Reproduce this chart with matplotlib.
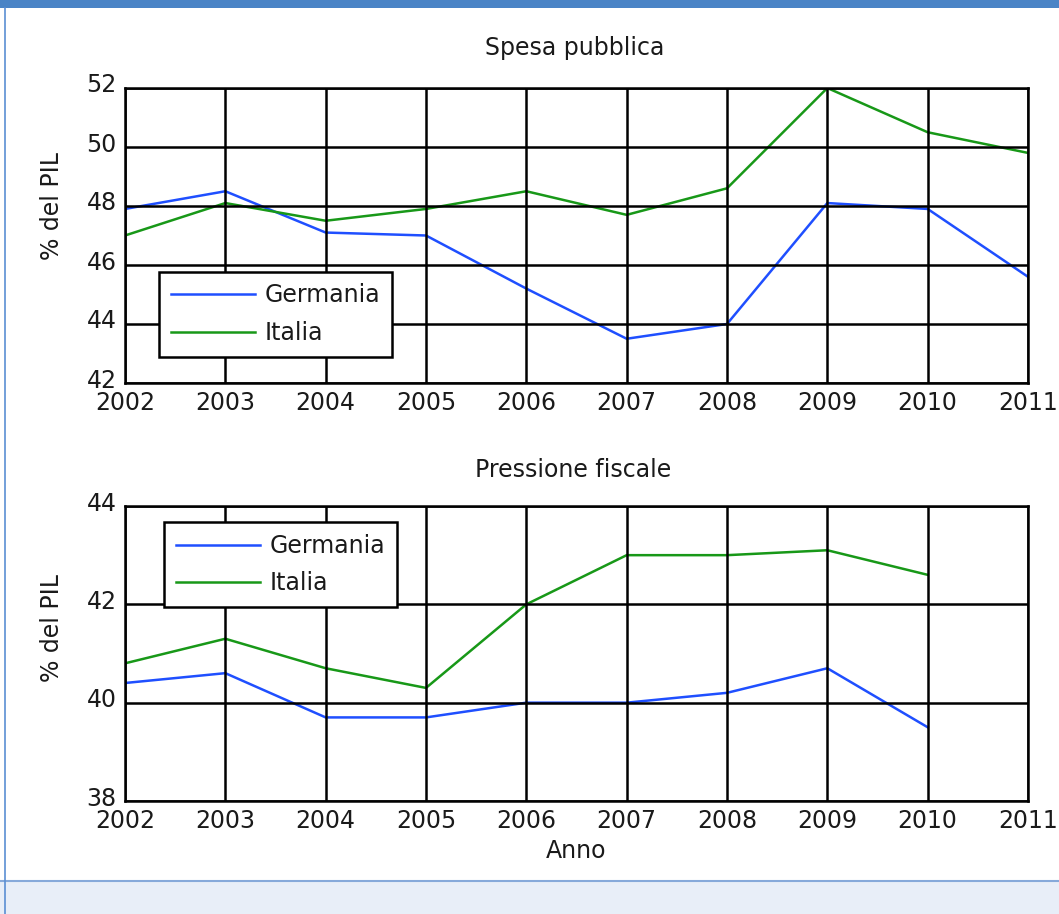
import matplotlib
matplotlib.use('Agg')
import matplotlib.pyplot as plt
import matplotlib.transforms as mtransforms
from matplotlib.patches import Rectangle
from matplotlib.lines import Line2D

# ---------------- data ----------------
years = [2002, 2003, 2004, 2005, 2006, 2007, 2008, 2009, 2010, 2011]
spesa_germania = [47.9, 48.5, 47.1, 47.0, 45.2, 43.5, 44.0, 48.1, 47.9, 45.6]
spesa_italia = [47.0, 48.1, 47.5, 47.9, 48.5, 47.7, 48.6, 52.0, 50.5, 49.8]

pressione_years = [2002, 2003, 2004, 2005, 2006, 2007, 2008, 2009, 2010]
pressione_germania = [40.4, 40.6, 39.7, 39.7, 40.0, 40.0, 40.2, 40.7, 39.5]
pressione_italia = [40.8, 41.3, 40.7, 40.3, 42.0, 43.0, 43.0, 43.1, 42.6]

spesa_yticks = [42, 44, 46, 48, 50, 52]
pressione_yticks = [38, 40, 42, 44]

titles = ["Spesa pubblica", "Pressione fiscale"]
series_labels = ["Germania", "Italia"]
ylabel = "% del PIL"
xlabel = "Anno"

# ---------------- style ----------------
W, H = 1059, 914
BLUE = '#1f4fff'
GREEN = '#189818'
FS = 17
TXT = '#1a1a1a'
plt.rcParams['font.family'] = ['DejaVu Sans']

fig = plt.figure(figsize=(W / 100, H / 100), dpi=100)
fig.patch.set_facecolor('white')

# frame decorations
fig.patches.append(Rectangle((0, 1 - 8 / H), 1, 8 / H, transform=fig.transFigure,
                             facecolor='#4a84c6', edgecolor='none', zorder=0))
fig.patches.append(Rectangle((0, 0), 1, 33 / H, transform=fig.transFigure,
                             facecolor='#e8eef8', edgecolor='none', zorder=0))
fig.lines.append(Line2D([0, 1], [33 / H, 33 / H], transform=fig.transFigure,
                        color='#86a9da', lw=1.5))
fig.lines.append(Line2D([5 / W, 5 / W], [0, 1 - 8 / H], transform=fig.transFigure,
                        color='#5b8fd3', lw=1.2))

ax1 = fig.add_axes([125 / W, 1 - 383 / H, 903 / W, 295 / H])
ax2 = fig.add_axes([125 / W, 1 - 801 / H, 903 / W, 295 / H])

shift = mtransforms.ScaledTranslation(0, 0.05, fig.dpi_scale_trans)


def style(ax, yticks):
    ax.set_xlim(years[0], years[-1])
    ax.set_ylim(yticks[0], yticks[-1])
    ax.set_xticks(years)
    ax.set_xticklabels([str(y) for y in years])
    ax.set_yticks(yticks)
    ax.set_yticklabels([str(v) for v in yticks])
    ax.set_axisbelow(False)
    ax.grid(True, color='black', lw=1.8)
    for s in ax.spines.values():
        s.set_linewidth(1.8)
        s.set_color('black')
    ax.tick_params(length=0, labelsize=FS, pad=6, colors=TXT)
    for lab in ax.get_yticklabels():
        lab.set_transform(lab.get_transform() + shift)


legend_kw = dict(borderaxespad=0, fontsize=FS, handlelength=3.55, handletextpad=0.42,
                 borderpad=0.5, labelspacing=0.58, fancybox=False, framealpha=1,
                 edgecolor='black')

# top: spesa pubblica
ax1.plot(years, spesa_germania, color=BLUE, lw=1.8, label=series_labels[0], zorder=2)
ax1.plot(years, spesa_italia, color=GREEN, lw=1.8, label=series_labels[1], zorder=2)
style(ax1, spesa_yticks)
leg1 = ax1.legend(loc='lower left', bbox_to_anchor=(34 / 903, 26 / 295), **legend_kw)
leg1.get_frame().set_linewidth(1.8)
leg1.set_zorder(5)
for t in leg1.get_texts():
    t.set_color(TXT)

# bottom: pressione fiscale
ax2.plot(pressione_years, pressione_germania, color=BLUE, lw=1.8, label=series_labels[0], zorder=2)
ax2.plot(pressione_years, pressione_italia, color=GREEN, lw=1.8, label=series_labels[1], zorder=2)
style(ax2, pressione_yticks)
leg2 = ax2.legend(loc='upper left', bbox_to_anchor=(39 / 903, 279 / 295), **legend_kw)
leg2.get_frame().set_linewidth(1.8)
leg2.set_zorder(5)
for t in leg2.get_texts():
    t.set_color(TXT)

# texts
fig.text(575 / W, 1 - 48 / H, titles[0], ha='center', va='center', fontsize=FS, color=TXT)
fig.text(573 / W, 1 - 470 / H, titles[1], ha='center', va='center', fontsize=FS, color=TXT)
fig.text(52 / W, 1 - 206 / H, ylabel, ha='center', va='center', rotation=90, fontsize=FS, color=TXT)
fig.text(52 / W, 1 - 628 / H, ylabel, ha='center', va='center', rotation=90, fontsize=FS, color=TXT)
fig.text(576 / W, 1 - 851 / H, xlabel, ha='center', va='center', fontsize=FS, color=TXT)

fig.savefig('out.png', dpi=100)
